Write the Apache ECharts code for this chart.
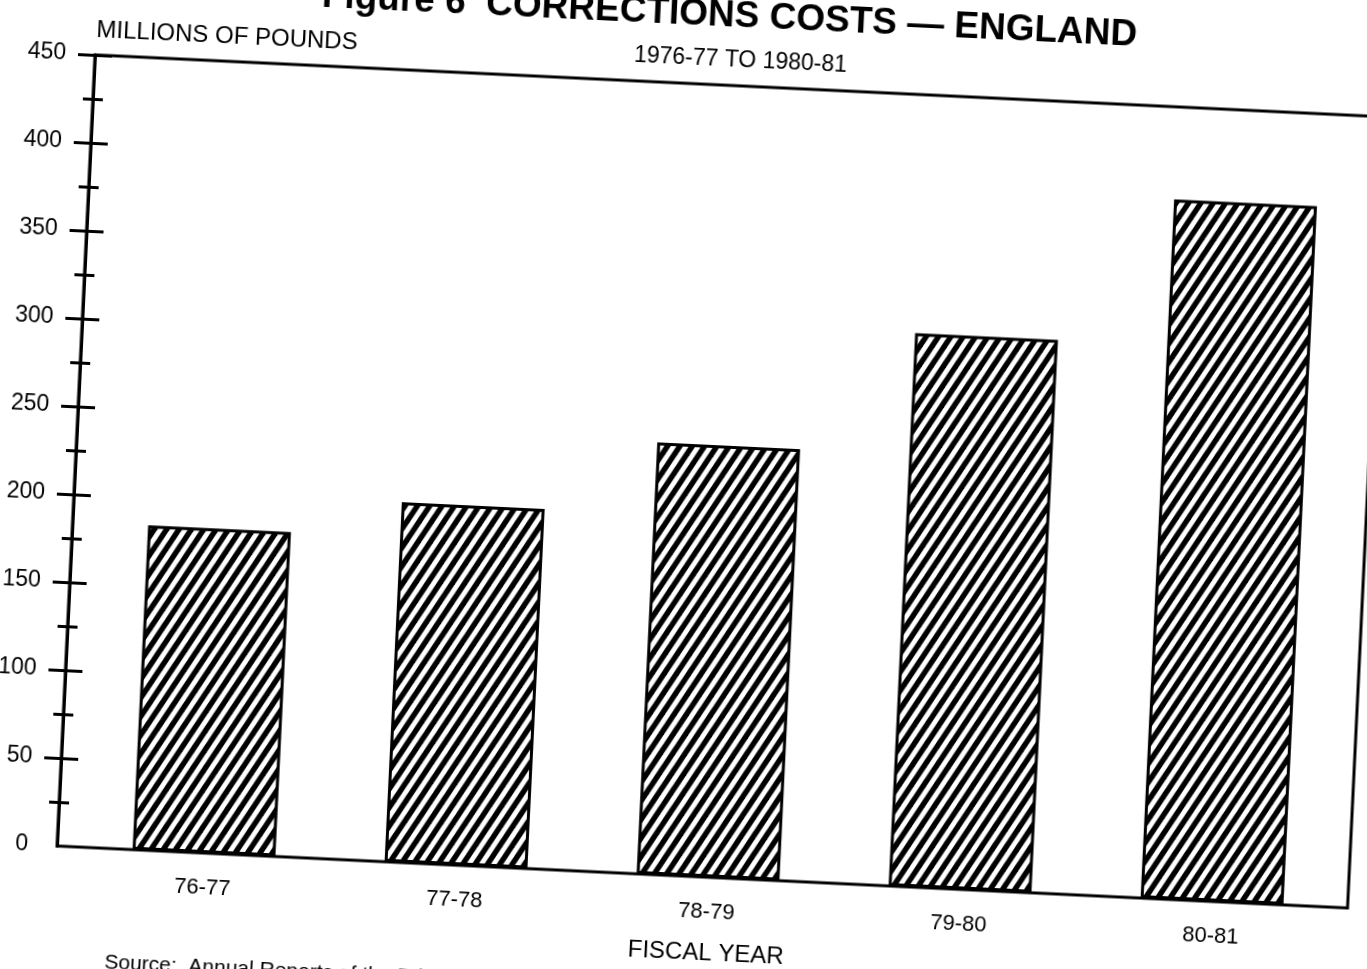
<!DOCTYPE html>
<html>
<head>
<meta charset="utf-8">
<script src="https://cdn.jsdelivr.net/npm/echarts@6/dist/echarts.min.js"></script>
<style>
html,body{margin:0;padding:0;background:#fff;overflow:hidden;width:1367px;height:969px;position:relative;}
#chart{position:absolute;left:-50px;top:-100px;width:1467px;height:1119px;transform-origin:107px 946px;transform:rotate(2.75deg);}
</style>
</head>
<body>
<div id="chart"></div>
<script>
// ---- data ----
const categories = ['76-77', '77-78', '78-79', '79-80', '80-81'];
const costs = [184.5, 204.5, 245.5, 314.5, 397.5];
const yTickValues = [50, 100, 150, 200, 250, 300, 350, 400, 450];
const yLabelValues = [0, 50, 100, 150, 200, 250, 300, 350, 400, 450];
const titleText = 'Figure 6  CORRECTIONS COSTS \u2014 ENGLAND';
const subtitleText = '1976-77 TO 1980-81';
const yAxisName = 'MILLIONS OF POUNDS';
const xAxisName = 'FISCAL YEAR';
const sourceText = 'Source:  Annual Reports of the Prison Department';

// ---- hatch pattern ----
function hatch() {
  const w = 12, h = 20;
  const c = document.createElement('canvas');
  c.width = w; c.height = h;
  const g = c.getContext('2d');
  g.fillStyle = '#fff';
  g.fillRect(0, 0, w, h);
  g.strokeStyle = '#000';
  g.lineWidth = 5.5;
  for (let k = -2; k <= 2; k++) {
    g.beginPath();
    g.moveTo(k * w - w, 2 * h);
    g.lineTo(k * w + 2 * w, -h);
    g.stroke();
  }
  return c;
}

const FONT = '"Liberation Sans", Arial, Helvetica, sans-serif';
const chart = echarts.init(document.getElementById('chart'), null, {renderer: 'canvas'});
const tickStyle = {color: '#000', width: 3};

const option = {
  animation: false,
  textStyle: {fontFamily: FONT},
  grid: [
    {left: 107, top: 154, width: 1292, height: 792, show: true, borderColor: '#000', borderWidth: 3, backgroundColor: 'transparent', containLabel: false},
    {left: 128, top: 154, width: 1261.5, height: 792, containLabel: false}
  ],
  xAxis: [
    {gridIndex: 0, type: 'value', min: 0, max: 1, show: false},
    {gridIndex: 1, type: 'category', data: categories,
     axisLine: {show: false}, axisTick: {show: false},
     axisLabel: {margin: 24, fontSize: 22, color: '#000', fontFamily: FONT}}
  ],
  yAxis: [
    {gridIndex: 0, type: 'value', min: 0, max: 450, interval: 50, position: 'left',
     axisLine: {show: true, lineStyle: {color: '#000', width: 3}},
     axisTick: {show: true, length: 17, lineStyle: tickStyle, customValues: yTickValues},
     minorTick: {show: true, splitNumber: 2, length: 10, lineStyle: tickStyle},
     axisLabel: {margin: 29, fontSize: 23, color: '#000', fontFamily: FONT, customValues: yLabelValues},
     splitLine: {show: false}},
    {gridIndex: 0, type: 'value', min: 0, max: 450, interval: 50, position: 'left',
     axisLine: {show: false},
     axisTick: {show: true, inside: true, length: 17, lineStyle: tickStyle, customValues: yTickValues},
     minorTick: {show: true, splitNumber: 2, length: 10, lineStyle: tickStyle},
     axisLabel: {show: false},
     splitLine: {show: false}},
    {gridIndex: 1, type: 'value', min: 0, max: 450, show: false}
  ],
  series: [{
    type: 'bar', xAxisIndex: 1, yAxisIndex: 2, data: costs, barWidth: 143,
    itemStyle: {color: {image: hatch(), repeat: 'repeat'}, borderColor: '#000', borderWidth: 3}
  }],
  graphic: [
    {type: 'text', x: 1147, y: 85, style: {text: titleText, fontSize: 37, fontWeight: 'bold', fontFamily: FONT, fill: '#000', align: 'right', verticalAlign: 'middle'}},
    {type: 'text', x: 752, y: 129, style: {text: subtitleText, fontSize: 23, fontFamily: FONT, fill: '#000', align: 'center', verticalAlign: 'middle'}},
    {type: 'text', x: 238, y: 129, style: {text: yAxisName, fontSize: 24, fontFamily: FONT, fill: '#000', align: 'center', verticalAlign: 'middle'}},
    {type: 'text', x: 760, y: 1022, style: {text: xAxisName, fontSize: 24, fontFamily: FONT, fill: '#000', align: 'center', verticalAlign: 'middle'}},
    {type: 'text', x: 160, y: 1060, style: {text: sourceText, fontSize: 21, fontFamily: FONT, fill: '#000', align: 'left', verticalAlign: 'middle'}}
  ]
};
chart.setOption(option);
</script>
</body>
</html>
